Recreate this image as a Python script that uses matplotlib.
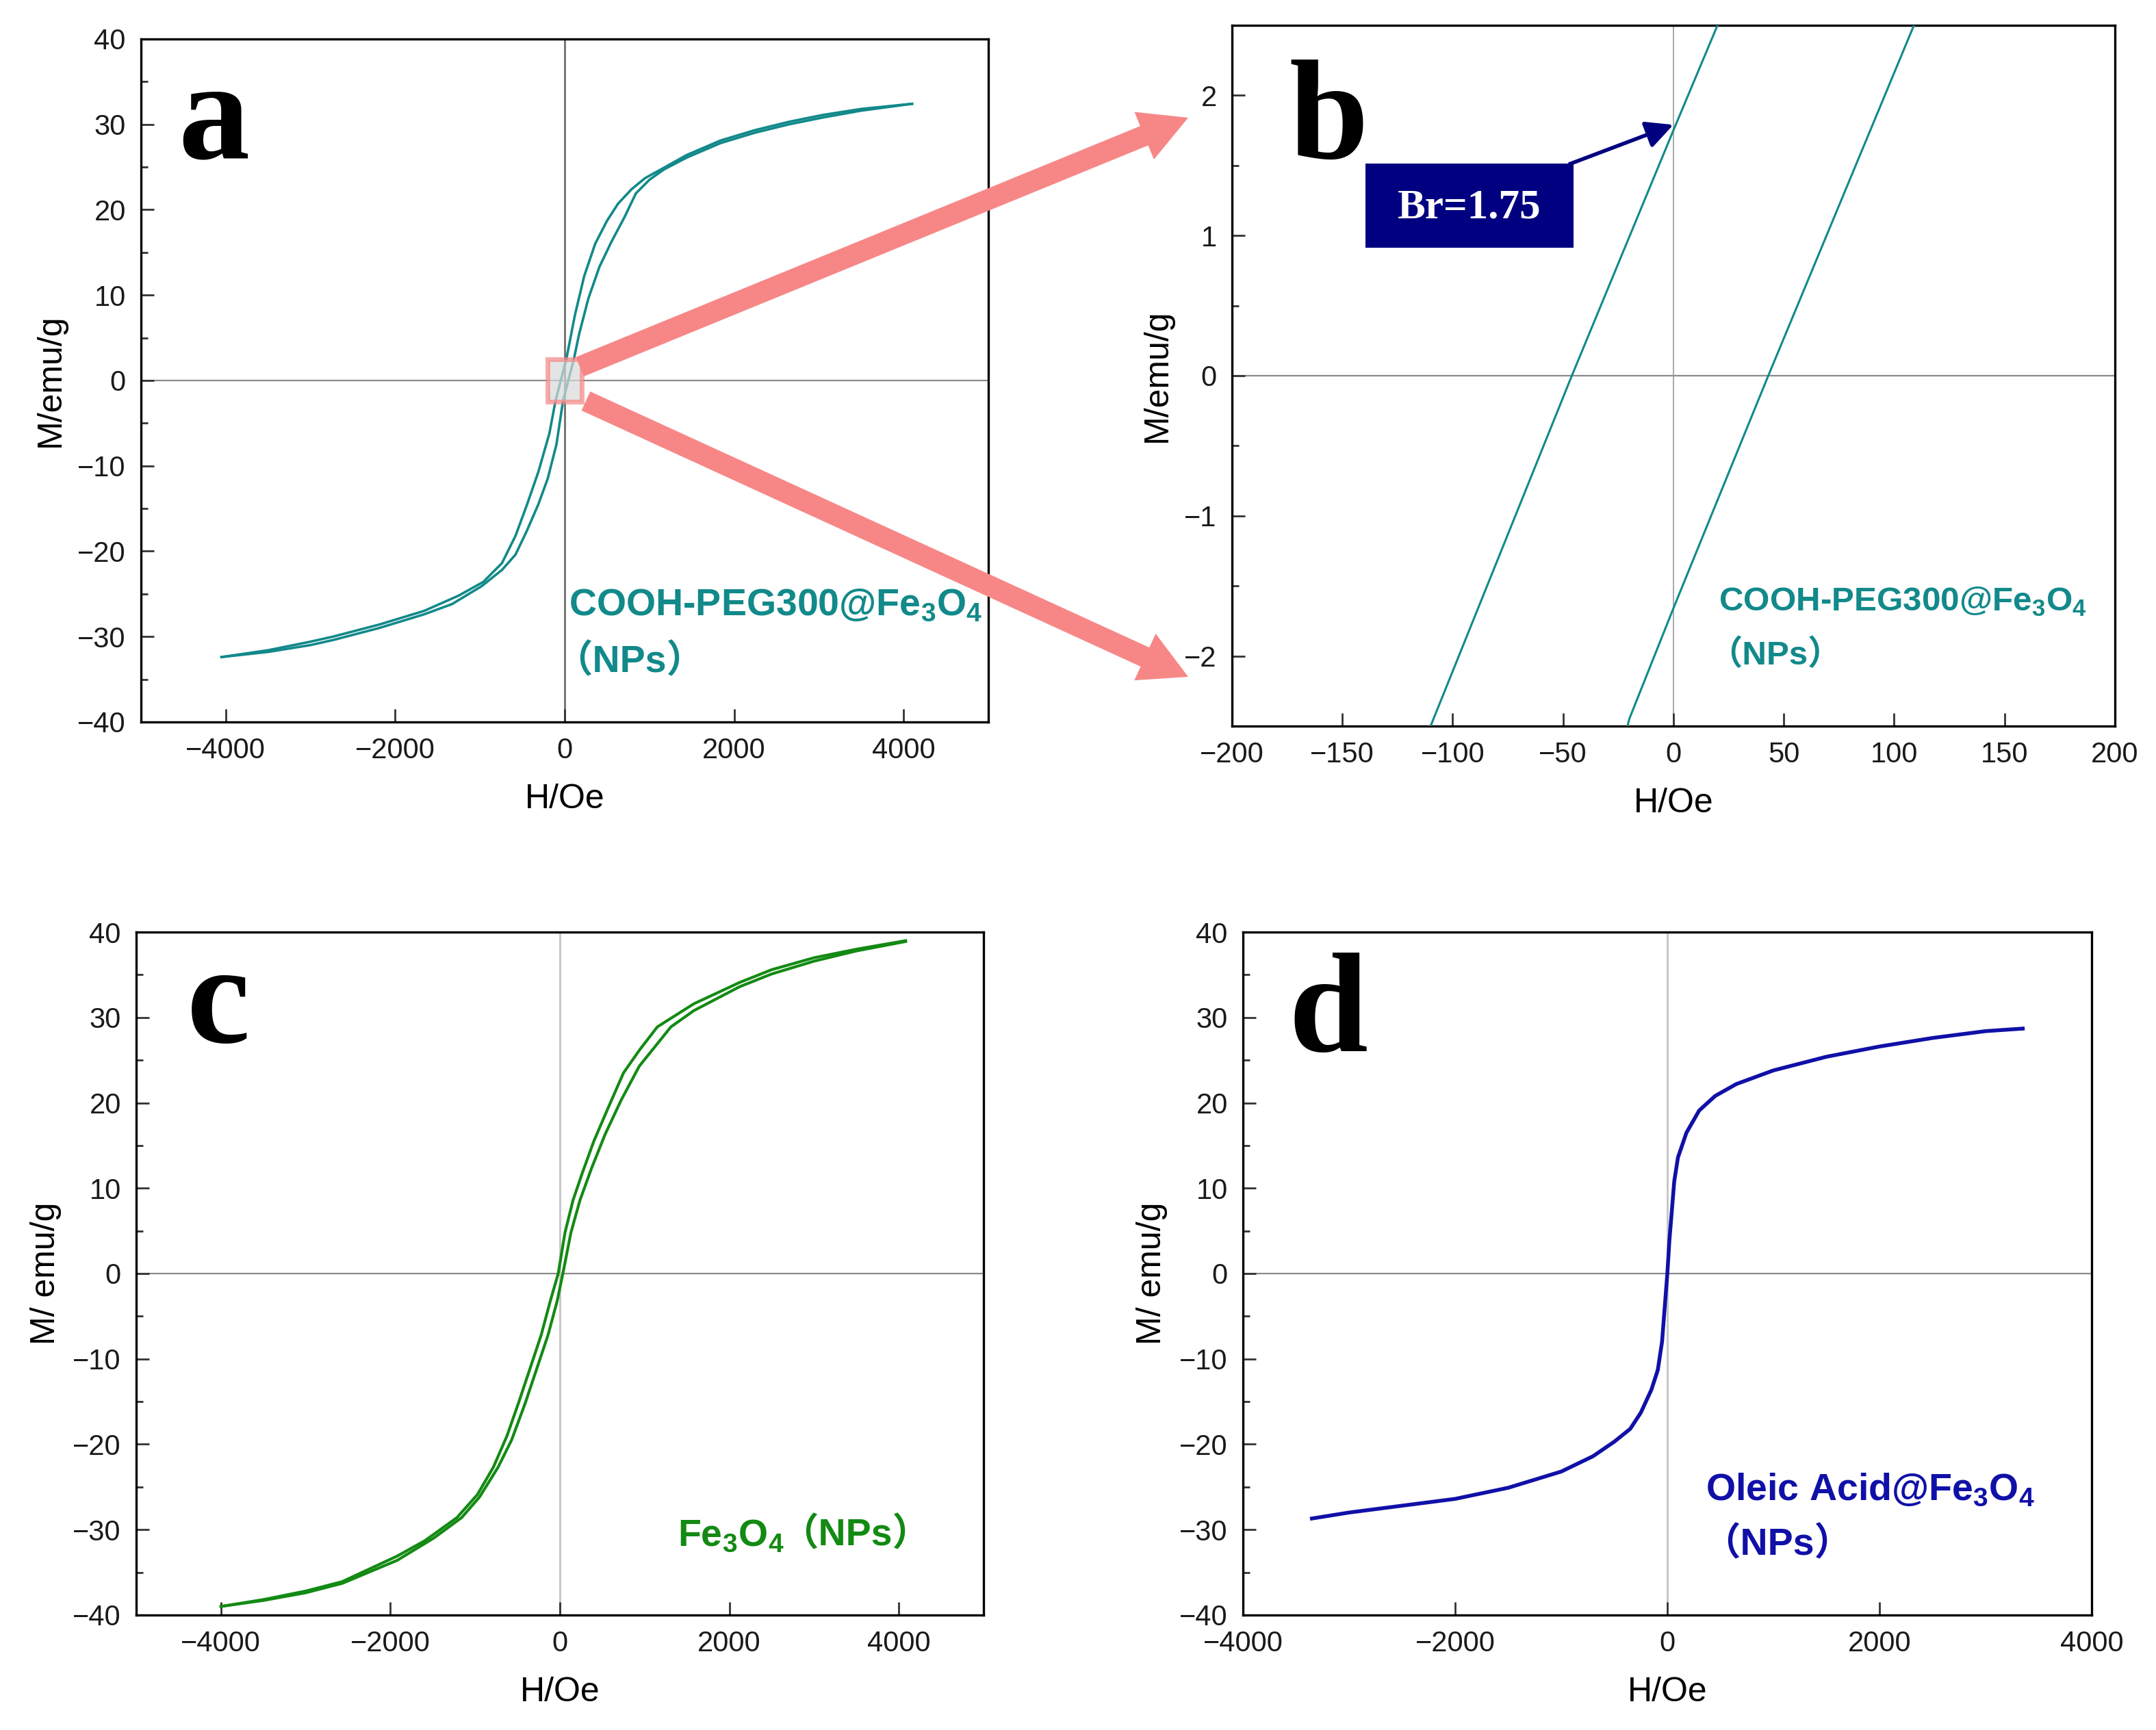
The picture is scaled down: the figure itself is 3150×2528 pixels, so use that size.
import matplotlib
matplotlib.use("Agg")
import matplotlib.pyplot as plt
from matplotlib.patches import Rectangle, FancyArrowPatch
from matplotlib.ticker import MultipleLocator

plt.rcParams['font.family'] = ['Liberation Sans', 'Noto Sans CJK SC']
plt.rcParams['mathtext.fontset'] = 'custom'
plt.rcParams['mathtext.rm'] = 'Liberation Sans'
plt.rcParams['mathtext.bf'] = 'Liberation Sans:bold'
plt.rcParams['axes.unicode_minus'] = True

# ---- data ----
# a/b: COOH-PEG300@Fe3O4, descending branch (H from + to -)
peg_h_down = [4100, 3500, 3050, 2650, 2240, 1840, 1440, 1170, 950, 790, 630, 500, 360, 230,
              120, 20, 0, -46, -110, -180, -310, -450, -580, -740, -960, -1250, -1660, -2190,
              -2730, -3000, -3500, -4050]
peg_m_down = [32.4, 31.8, 31.1, 30.3, 29.3, 28.1, 26.4, 24.9, 23.7, 22.4, 20.7, 18.7, 16.0,
              12.2, 7.6, 2.5, 1.75, 0.0, -2.5, -6.2, -10.7, -14.7, -18.2, -21.4, -23.6, -25.2,
              -27.0, -28.6, -30.0, -30.6, -31.6, -32.4]
# ascending branch (H from - to +)
peg_h_up = [-4050, -3500, -3000, -2730, -2190, -1660, -1330, -980, -740, -580, -450, -310,
            -200, -97, -20, 0, 43, 109, 170, 280, 410, 550, 710, 840, 1000, 1170, 1440, 1840,
            2240, 2650, 3050, 3500, 4100]
peg_m_up = [-32.4, -31.8, -31.0, -30.4, -29.0, -27.4, -26.2, -24.1, -22.2, -20.4, -17.7,
            -14.5, -11.5, -7.5, -2.45, -1.66, 0.0, 2.5, 5.4, 9.6, 13.3, 16.2, 19.2, 21.9, 23.5,
            24.7, 26.1, 27.8, 29.0, 30.0, 30.8, 31.6, 32.4]
br_value = 1.75

# c: bare Fe3O4
fe_h_down = [4080, 3500, 3000, 2500, 2120, 1580, 1150, 940, 750, 560, 400, 265, 155, 60, -20,
             -113, -221, -355, -490, -624, -786, -974, -1216, -1594, -1920, -2570, -3000,
             -3500, -4000]
fe_m_down = [39.0, 38.0, 37.0, 35.6, 34.1, 31.6, 28.9, 26.2, 23.5, 19.2, 15.5, 11.8, 8.6, 4.8,
             0.0, -3.2, -7.2, -11.2, -15.2, -19.0, -22.7, -25.9, -28.6, -31.3, -33.1, -36.1,
             -37.2, -38.2, -39.0]
fe_h_up = [-4000, -3500, -3000, -2570, -1920, -1490, -1160, -950, -730, -570, -410, -275,
           -140, -32, 35, 130, 237, 372, 533, 722, 937, 1310, 1580, 2120, 2500, 3000, 3500,
           4080]
fe_m_up = [-39.0, -38.3, -37.4, -36.3, -33.6, -31.0, -28.6, -26.2, -22.7, -19.5, -15.2,
           -11.2, -7.2, -3.2, 0.0, 4.8, 8.6, 12.3, 16.3, 20.3, 24.3, 28.9, 30.8, 33.6, 35.1,
           36.6, 37.8, 38.9]

# d: Oleic Acid@Fe3O4
oa_h = [-3350, -3000, -2500, -2000, -1500, -1000, -700, -500, -350, -250, -150, -90, -50, -25,
        0, 20, 40, 65, 100, 180, 300, 450, 650, 1000, 1500, 2000, 2500, 3000, 3350]
oa_m = [-28.7, -28.0, -27.2, -26.4, -25.1, -23.2, -21.4, -19.7, -18.2, -16.3, -13.6, -11.3,
        -8.0, -4.0, 0.0, 4.0, 7.0, 10.8, 13.6, 16.5, 19.1, 20.8, 22.2, 23.8, 25.4, 26.6, 27.6,
        28.4, 28.7]

TEAL = '#12898a'
GREEN = '#138a13'
BLUE = '#1010a8'
NAVY = '#000080'
PINK = '#f78787'

fig = plt.figure(figsize=(15.75, 12.64), dpi=200)

ax_a = fig.add_axes([0.0654, 0.5827, 0.393, 0.3948])
ax_b = fig.add_axes([0.5714, 0.5803, 0.4095, 0.4051])
ax_c = fig.add_axes([0.0632, 0.0665, 0.393, 0.3947])
ax_d = fig.add_axes([0.5765, 0.0665, 0.3937, 0.3947])


def style(ax, xlim, xstep, ylim, ystep, yminor, ylab, vcol, vlw):
    ax.set_xlim(*xlim)
    ax.set_ylim(*ylim)
    ax.xaxis.set_major_locator(MultipleLocator(xstep))
    ax.yaxis.set_major_locator(MultipleLocator(ystep))
    ax.yaxis.set_minor_locator(MultipleLocator(yminor))
    ax.tick_params(which='both', direction='in', color='#333333', width=1.0,
                   labelsize=15, labelcolor='#1a1a1a', pad=8)
    ax.tick_params(which='major', length=7)
    ax.tick_params(which='minor', length=3.6)
    for s in ax.spines.values():
        s.set_linewidth(1.2)
        s.set_color('black')
    ax.set_xlabel('H/Oe', fontsize=18, labelpad=10)
    ax.set_ylabel(ylab, fontsize=18, labelpad=6)
    ax.axhline(0, color='#8a8a8a', lw=0.8, zorder=1)
    ax.axvline(0, color=vcol, lw=vlw, zorder=1)


style(ax_a, (-5000, 5000), 2000, (-40, 40), 10, 5, 'M/emu/g', '#6e6e6e', 1.0)
style(ax_b, (-200, 200), 50, (-2.5, 2.5), 1, 0.5, 'M/emu/g', '#9a9a9a', 0.6)
style(ax_c, (-5000, 5000), 2000, (-40, 40), 10, 5, 'M/ emu/g', '#c4c4c4', 1.0)
style(ax_d, (-4000, 4000), 2000, (-40, 40), 10, 5, 'M/ emu/g', '#c4c4c4', 1.0)

# curves
ax_a.plot(peg_h_down, peg_m_down, color=TEAL, lw=1.3, zorder=3)
ax_a.plot(peg_h_up, peg_m_up, color=TEAL, lw=1.3, zorder=3)
ax_b.plot(peg_h_down, peg_m_down, color=TEAL, lw=1.1, zorder=3)
ax_b.plot(peg_h_up, peg_m_up, color=TEAL, lw=1.1, zorder=3)
ax_c.plot(fe_h_down, fe_m_down, color=GREEN, lw=1.5, zorder=3)
ax_c.plot(fe_h_up, fe_m_up, color=GREEN, lw=1.5, zorder=3)
ax_d.plot(oa_h, oa_m, color=BLUE, lw=2.0, zorder=3)

# zoom box in a
ax_a.add_patch(Rectangle((-200, -2.5), 400, 5, facecolor='#d9d9d9', alpha=0.7,
                         edgecolor=PINK, lw=2.5, zorder=4))

# sample labels
ax_a.text(48, -27.5, r'COOH-PEG300@Fe$_\mathbf{3}$O$_\mathbf{4}$', color=TEAL,
          fontsize=20, fontweight='bold')
ax_a.text(-120, -34.2, '（NPs）', color=TEAL, fontsize=20, fontweight='bold')
ax_b.text(20.5, -1.68, r'COOH-PEG300@Fe$_\mathbf{3}$O$_\mathbf{4}$', color=TEAL,
          fontsize=17.8, fontweight='bold')
ax_b.text(16, -2.06, '（NPs）', color=TEAL, fontsize=17.8, fontweight='bold')
ax_c.text(1390, -31.9, r'Fe$_\mathbf{3}$O$_\mathbf{4}$', color=GREEN,
          fontsize=20, fontweight='bold')
ax_c.text(2600, -31.9, '（NPs）', color=GREEN, fontsize=20, fontweight='bold')
ax_d.text(361, -26.5, r'Oleic Acid@Fe$_\mathbf{3}$O$_\mathbf{4}$', color=BLUE,
          fontsize=20, fontweight='bold')
ax_d.text(330, -33.0, '（NPs）', color=BLUE, fontsize=20, fontweight='bold')

# Br annotation in b
ax_b.add_patch(Rectangle((-139.5, 0.913), 94.2, 0.601, facecolor=NAVY, edgecolor='none',
                         zorder=5))
ax_b.text(-92.4, 1.2, f'Br={br_value}', ha='center', va='center', color='white',
          fontfamily='Liberation Serif', fontweight='bold', fontsize=22, zorder=6)
ax_b.annotate('', xy=(0, 1.79), xytext=(-47, 1.51),
              arrowprops=dict(arrowstyle='-|>', color=NAVY, lw=2.0, mutation_scale=30,
                              shrinkA=0, shrinkB=0), zorder=6)

# panel letters
for x, y, s in [(0.0825, 0.9086, 'a'), (0.598, 0.9086, 'b'),
                (0.0867, 0.3975, 'c'), (0.5975, 0.3924, 'd')]:
    fig.text(x, y, s, fontsize=75, fontweight='bold', fontfamily='Liberation Serif',
             va='baseline', ha='left')

# big pink arrows from a to b
W, H = 3150.0, 2528.0
for (x0, y0), (x1, y1) in [((847, 536), (1736, 172)), ((856, 586), (1736, 989))]:
    arr = FancyArrowPatch((x0 / W, 1 - y0 / H), (x1 / W, 1 - y1 / H),
                          transform=fig.transFigure, color=PINK, lw=0,
                          arrowstyle='simple,tail_width=1.1,head_width=2.7,head_length=2.5',
                          mutation_scale=10, shrinkA=0, shrinkB=0, zorder=10)
    fig.add_artist(arr)

fig.savefig('out.png', dpi=200, facecolor='white')
